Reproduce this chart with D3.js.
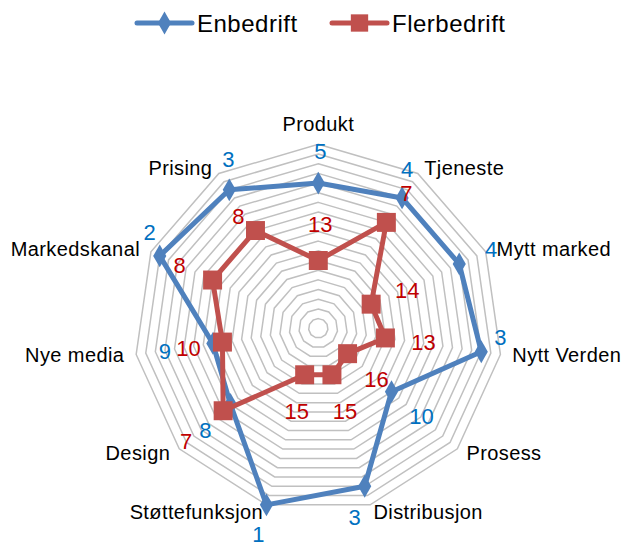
<html>
  <meta charset="utf-8">
<head>
    <script src="https://d3js.org/d3.v7.min.js"></script>
</head>
<body style="margin: 0; background-color: #FFFFFF">

<div id="radar"></div>

<script>

// categories, clockwise from the top
var categories = ["Produkt", "Tjeneste", "Mytt marked", "Nytt Verden", "Prosess",
                  "Distribusjon", "Støttefunksjon", "Design", "Nye media", "Markedskanal", "Prising"];

// ranks (1 = best, drawn at the outer ring)
var enbedrift   = [5, 4, 4, 3, 10, 3, 1, 8, 9, 2, 3];
var flerbedrift = [13, 7, 14, 13, 16, 15, 15, 7, 10, 8, 8];

var seriesNames = ["Enbedrift", "Flerbedrift"];

// ring values of the reversed rank axis
var ringValues = d3.range(1, 20);

// label nudges (px) from each marker, the way the labels sit in the sheet
var shiftEn = [[2,-32],[5,-28],[32,-14],[19,-14],[30,25],[-10,31],[-8,30],[-25,26],[-48,8],[-10,-23],[-1,-30]];
var shiftFl = [[2,-36],[20,-29],[36,-14],[38,5],[29,26],[13,37],[-8,37],[-37,31],[-34,6],[-33,-15],[-17,-14]];

var width = 622, height = 547,
    cx = 318.3, cy = 328.3, R = 184;

var svg = d3.select("#radar")
  .append("svg")
    .attr("width", width)
    .attr("height", height)
    .style("font-family", "'Liberation Sans', Arial, sans-serif");

var g = svg.append("g")
    .attr("transform", "translate(" + cx + "," + cy + ")");

var r = d3.scaleLinear()
  .domain([20, 1])
  .range([0, R]);

var angle = d3.scaleLinear()
  .domain([0, categories.length])
  .range([0, 2 * Math.PI]);

var ringLine = d3.lineRadial()
  .angle(function(d, i) { return angle(i); })
  .radius(function(d) { return r(d); })
  .curve(d3.curveLinearClosed);

// grid rings
g.selectAll("myring")
  .data(ringValues)
  .enter()
  .append("path")
    .attr("d", function(v) { return ringLine(categories.map(function() { return v; })); })
    .attr("fill", "none")
    .attr("stroke", "#C0C0C0")
    .attr("stroke-width", 1.5);

// category labels
function catPos(i) {
  if (i === 0) return d3.pointRadial(0, R + 20);
  var p = d3.pointRadial(angle(i), R + 12);
  return [p[0], p[1] + 5 * Math.cos(angle(i))];
}

g.selectAll("mycat")
  .data(categories)
  .enter()
  .append("text")
    .attr("x", function(d, i) { return catPos(i)[0]; })
    .attr("y", function(d, i) { return catPos(i)[1]; })
    .attr("dominant-baseline", "central")
    .attr("text-anchor", function(d, i) {
      var x = Math.sin(angle(i));
      return Math.abs(x) < 0.01 ? "middle" : (x > 0 ? "start" : "end");
    })
    .style("font-size", "20px")
    .style("letter-spacing", "0.4px")
    .style("fill", "#000")
    .text(function(d) { return d; });

var seriesLine = d3.lineRadial()
  .angle(function(d, i) { return angle(i); })
  .radius(function(d) { return r(d); })
  .curve(d3.curveLinearClosed);

var series = [
  { values: enbedrift,   color: "#4F81BD", labelColor: "#0070C0", shape: d3.symbolDiamond, size: 150, shift: shiftEn },
  { values: flerbedrift, color: "#C0504D", labelColor: "#C00000", shape: d3.symbolSquare,  size: 360, shift: shiftFl }
];

series.forEach(function(s) {
  g.append("path")
    .attr("d", seriesLine(s.values))
    .attr("fill", "none")
    .attr("stroke", s.color)
    .attr("stroke-width", 5)
    .attr("stroke-linejoin", "round");

  g.selectAll("mymark")
    .data(s.values)
    .enter()
    .append("path")
      .attr("d", d3.symbol().type(s.shape).size(s.size))
      .attr("transform", function(d, i) {
        var p = d3.pointRadial(angle(i), r(d));
        return "translate(" + p[0] + "," + p[1] + ")";
      })
      .attr("fill", s.color);
});

series.forEach(function(s) {
  g.selectAll("mylabel")
    .data(s.values)
    .enter()
    .append("text")
      .attr("x", function(d, i) { return d3.pointRadial(angle(i), r(d))[0] + s.shift[i][0]; })
      .attr("y", function(d, i) { return d3.pointRadial(angle(i), r(d))[1] + s.shift[i][1]; })
      .attr("text-anchor", "middle")
      .attr("dominant-baseline", "central")
      .style("font-size", "22px")
      .style("fill", s.labelColor)
      .text(function(d) { return d; });
});

// legend
var legend = svg.selectAll("mylegend")
  .data(series)
  .enter()
  .append("g")
    .attr("transform", function(d, i) { return "translate(" + (137 + i * 195) + ",23)"; });

legend.append("line")
  .attr("x1", 0).attr("x2", 55)
  .attr("y1", 0).attr("y2", 0)
  .attr("stroke", function(d) { return d.color; })
  .attr("stroke-width", 5)
  .attr("stroke-linecap", "round");

legend.append("path")
  .attr("d", function(d) { return d3.symbol().type(d.shape).size(d.shape === d3.symbolSquare ? 300 : 150)(); })
  .attr("transform", "translate(27.5,0)")
  .attr("fill", function(d) { return d.color; });

legend.append("text")
  .attr("x", 60)
  .attr("y", 0)
  .attr("dominant-baseline", "central")
  .style("font-size", "24px")
  .style("letter-spacing", "0.5px")
  .style("fill", "#000")
  .text(function(d, i) { return seriesNames[i]; });

</script>
</body>
</html>
